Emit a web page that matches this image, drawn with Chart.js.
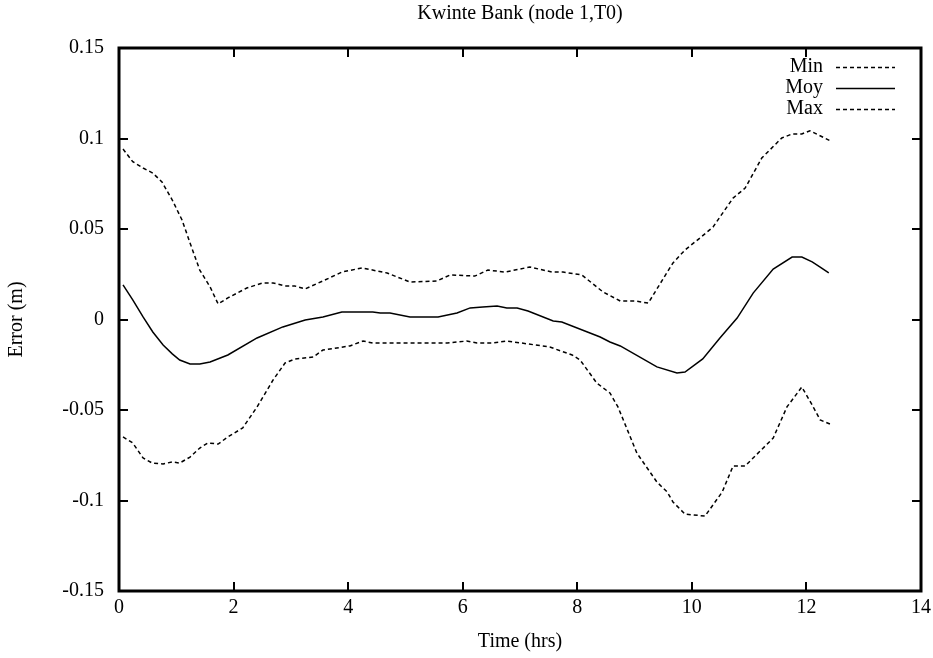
<!DOCTYPE html>
<html>
<head>
<meta charset="utf-8">
<title>Kwinte Bank (node 1,T0)</title>
<script src="https://cdn.jsdelivr.net/npm/chart.js@4/dist/chart.umd.min.js"></script>
<style>
  html, body { margin: 0; padding: 0; background: #fff; }
  #wrap { width: 933px; height: 658px; }
</style>
</head>
<body>
<div id="wrap"><canvas id="errChart" width="933" height="658"></canvas></div>
<script>
// error envelope at node 1 over one tide (hours, metres)
const minTimes = [0.07, 0.24, 0.42, 0.58, 0.77, 0.93, 1.06, 1.24, 1.41, 1.55, 1.73, 1.90, 2.16, 2.41, 2.69, 2.90, 3.07, 3.39, 3.56, 4.03, 4.26, 4.43, 4.90, 5.73, 6.07, 6.25, 6.51, 6.77, 7.14, 7.52, 7.91, 8.05, 8.34, 8.57, 8.71, 9.04, 9.39, 9.57, 9.67, 9.88, 10.23, 10.53, 10.72, 10.93, 11.42, 11.66, 11.92, 12.10, 12.24, 12.41];
const minValues = [-0.0649, -0.0682, -0.0765, -0.0793, -0.0798, -0.0787, -0.0793, -0.0760, -0.0710, -0.0682, -0.0688, -0.0649, -0.0599, -0.0483, -0.0334, -0.0240, -0.0218, -0.0207, -0.0169, -0.0146, -0.0119, -0.0130, -0.0130, -0.0130, -0.0119, -0.0130, -0.0130, -0.0119, -0.0135, -0.0152, -0.0196, -0.0224, -0.0351, -0.0406, -0.0483, -0.0738, -0.0898, -0.0953, -0.1008, -0.1075, -0.1086, -0.0953, -0.0809, -0.0809, -0.0655, -0.0483, -0.0373, -0.0472, -0.0555, -0.0577];

const moyTimes = [0.07, 0.24, 0.42, 0.59, 0.77, 0.93, 1.06, 1.24, 1.41, 1.59, 1.90, 2.41, 2.86, 3.25, 3.56, 3.89, 4.43, 4.56, 4.73, 5.08, 5.57, 5.90, 6.13, 6.35, 6.60, 6.77, 6.95, 7.14, 7.58, 7.73, 8.40, 8.57, 8.75, 9.39, 9.74, 9.88, 10.19, 10.49, 10.79, 11.07, 11.42, 11.75, 11.92, 12.10, 12.24, 12.39];
const moyValues = [0.0191, 0.0108, 0.0014, -0.0069, -0.0141, -0.0190, -0.0224, -0.0246, -0.0246, -0.0235, -0.0196, -0.0102, -0.0041, -0.0003, 0.0014, 0.0041, 0.0041, 0.0036, 0.0036, 0.0014, 0.0014, 0.0036, 0.0064, 0.0069, 0.0075, 0.0064, 0.0064, 0.0047, -0.0008, -0.0014, -0.0097, -0.0124, -0.0146, -0.0262, -0.0296, -0.0290, -0.0218, -0.0102, 0.0008, 0.0146, 0.0279, 0.0345, 0.0345, 0.0318, 0.0290, 0.0257];

const maxTimes = [0.07, 0.24, 0.42, 0.59, 0.75, 0.93, 1.10, 1.24, 1.41, 1.59, 1.73, 1.90, 2.23, 2.51, 2.69, 2.90, 3.07, 3.25, 3.56, 3.89, 4.24, 4.68, 5.08, 5.55, 5.78, 6.21, 6.44, 6.74, 7.17, 7.56, 7.75, 8.08, 8.45, 8.75, 9.01, 9.24, 9.57, 9.67, 9.88, 10.14, 10.37, 10.72, 10.93, 11.22, 11.57, 11.75, 11.92, 12.06, 12.41];
const maxValues = [0.0942, 0.0872, 0.0837, 0.0809, 0.0760, 0.0660, 0.0550, 0.0423, 0.0273, 0.0180, 0.0086, 0.0119, 0.0174, 0.0202, 0.0202, 0.0185, 0.0185, 0.0169, 0.0213, 0.0262, 0.0285, 0.0257, 0.0207, 0.0213, 0.0246, 0.0240, 0.0273, 0.0262, 0.0290, 0.0262, 0.0262, 0.0246, 0.0152, 0.0102, 0.0102, 0.0091, 0.0262, 0.0312, 0.0384, 0.0450, 0.0511, 0.0671, 0.0726, 0.0892, 0.1003, 0.1025, 0.1025, 0.1043, 0.0988];

const seriesLabels = ['Min', 'Moy', 'Max'];
const xTicks = [0, 2, 4, 6, 8, 10, 12, 14];
const yTicks = [-0.15, -0.1, -0.05, 0, 0.05, 0.1, 0.15];

const toPoints = (ts, vs) => ts.map((t, i) => ({ x: t, y: vs[i] }));
const DASH = [4, 3];

Chart.defaults.font.family = '"Liberation Serif", "Times New Roman", serif';
Chart.defaults.font.size = 20;
Chart.defaults.color = '#000';

// gnuplot-style box: heavy frame, inward ticks on all four sides, key in the top-right corner
const framePlugin = {
  id: 'frame',
  afterDraw(chart) {
    const { ctx, chartArea: a, scales } = chart;
    const tick = 9;
    ctx.save();
    ctx.strokeStyle = '#000';
    ctx.lineWidth = 2;
    ctx.beginPath();
    scales.x.ticks.forEach(tk => {
      const px = Math.round(scales.x.getPixelForValue(tk.value));
      ctx.moveTo(px, a.bottom); ctx.lineTo(px, a.bottom - tick);
      ctx.moveTo(px, a.top); ctx.lineTo(px, a.top + tick);
    });
    scales.y.ticks.forEach(tk => {
      const py = Math.round(scales.y.getPixelForValue(tk.value));
      ctx.moveTo(a.left, py); ctx.lineTo(a.left + tick, py);
      ctx.moveTo(a.right, py); ctx.lineTo(a.right - tick, py);
    });
    ctx.stroke();
    ctx.lineWidth = 3;
    ctx.strokeRect(a.left, a.top, a.right - a.left, a.bottom - a.top);

    // key
    ctx.font = '20px "Liberation Serif", "Times New Roman", serif';
    ctx.fillStyle = '#000';
    ctx.textAlign = 'right';
    ctx.textBaseline = 'middle';
    ctx.lineWidth = 1.5;
    chart.data.datasets.forEach((ds, i) => {
      const y = a.top + 19 + i * 21;
      ctx.fillText(ds.label, a.right - 98, y);
      ctx.setLineDash(ds.borderDash || []);
      ctx.beginPath();
      ctx.moveTo(a.right - 85, y + 0.5);
      ctx.lineTo(a.right - 26, y + 0.5);
      ctx.stroke();
    });
    ctx.restore();
  }
};

const ctx = document.getElementById('errChart');
new Chart(ctx, {
  type: 'scatter',
  data: {
    datasets: [
      { label: seriesLabels[0], data: toPoints(minTimes, minValues), borderDash: DASH },
      { label: seriesLabels[1], data: toPoints(moyTimes, moyValues), borderDash: [] },
      { label: seriesLabels[2], data: toPoints(maxTimes, maxValues), borderDash: DASH }
    ].map(ds => Object.assign(ds, {
      showLine: true,
      borderColor: '#000',
      backgroundColor: '#000',
      borderWidth: 1.5,
      pointRadius: 0,
      tension: 0,
      fill: false
    }))
  },
  options: {
    responsive: false,
    animation: false,
    devicePixelRatio: 1,
    layout: { padding: { left: 0, right: 12, top: 0, bottom: 0 } },
    plugins: {
      legend: { display: false },
      tooltip: { enabled: false },
      title: {
        display: true,
        text: 'Kwinte Bank (node 1,T0)',
        fullSize: false,
        font: { size: 20, weight: 'normal' },
        color: '#000',
        padding: { top: 2, bottom: 22 }
      }
    },
    scales: {
      x: {
        type: 'linear',
        min: 0,
        max: 14,
        afterBuildTicks: s => { s.ticks = xTicks.map(v => ({ value: v })); },
        afterFit: s => { s.height = 67; s.paddingLeft = 0; s.paddingRight = 0; },
        grid: { display: false, drawTicks: false },
        border: { display: false },
        ticks: { padding: 5, maxRotation: 0, color: '#000' },
        title: { display: true, text: 'Time (hrs)', color: '#000', padding: { top: 4, bottom: 4 } }
      },
      y: {
        type: 'linear',
        min: -0.15,
        max: 0.15,
        afterBuildTicks: s => { s.ticks = yTicks.map(v => ({ value: v })); },
        afterFit: s => { s.width = 119; s.paddingTop = 0; s.paddingBottom = 0; },
        grid: { display: false, drawTicks: false },
        border: { display: false },
        ticks: { padding: 15, color: '#000', callback: v => String(v) },
        title: { display: true, text: 'Error (m)', color: '#000', padding: { top: 5, bottom: 5 } }
      }
    }
  },
  plugins: [framePlugin]
});
</script>
</body>
</html>
